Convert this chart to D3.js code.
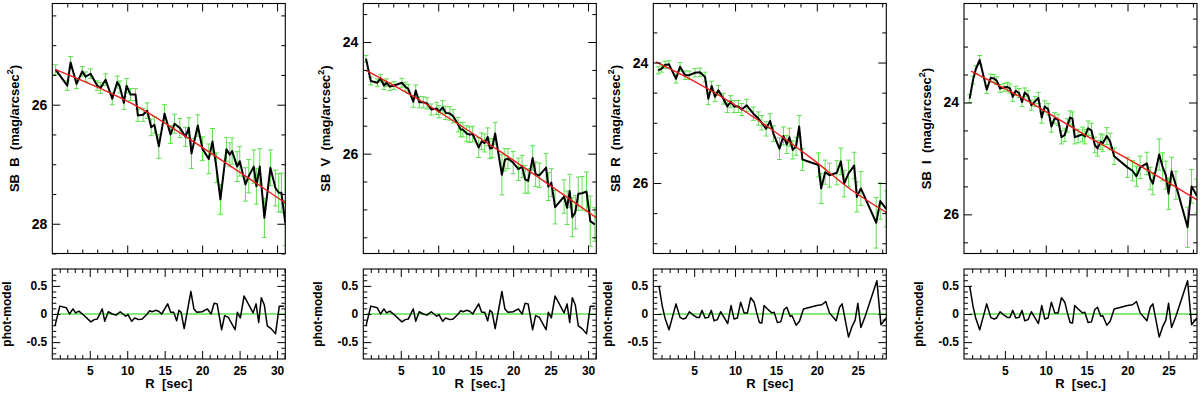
<!DOCTYPE html>
<html>
<head>
<meta charset="utf-8">
<script src="https://cdn.jsdelivr.net/npm/d3@7"></script>
<style>
body { margin: 0; background: #fff; }
text { font-family: "Liberation Sans", Arial, sans-serif; font-weight: bold; fill: #000; white-space: pre; }
</style>
</head>
<body>
<script>
// ---- B band (surface brightness profile)
var rB = [0.44, 2.0, 2.44, 3.24, 4.0, 4.44, 5.11, 6.0, 6.44, 7.11, 8.0, 8.67, 9.02, 9.56, 9.91, 10.44, 11.11, 11.42, 12.13, 12.67,
  13.2, 13.64, 14.22, 14.98, 15.78, 16.31, 17.02, 17.78, 18.22, 18.58, 19.42, 20.04, 20.89, 21.38, 21.91, 22.44, 23.24, 23.69, 24.0, 24.67,
  25.02, 25.78, 26.22, 26.89, 27.24, 27.69, 28.31, 29.11, 29.78, 30.22, 30.58, 31.1];
var sbB = [25.41, 25.68, 25.29, 25.65, 25.44, 25.53, 25.48, 25.68, 25.72, 25.58, 25.90, 25.62, 25.70, 25.97, 25.68, 25.83, 25.83, 26.18, 26.17, 26.10,
  26.38, 26.34, 26.70, 26.15, 26.50, 26.32, 26.39, 26.54, 26.39, 26.82, 26.35, 26.74, 26.91, 26.62, 27.06, 27.59, 26.75, 26.84, 26.78, 27.04,
  26.95, 27.34, 27.20, 27.04, 27.37, 27.04, 27.90, 27.06, 27.40, 27.48, 27.48, 27.99];
var errB = [0.08, 0.08, 0.1, 0.08, 0.08, 0.08, 0.08, 0.08, 0.09, 0.1, 0.1, 0.1, 0.1, 0.11, 0.12, 0.1, 0.1, 0.1, 0.11, 0.13,
  0.14, 0.14, 0.2, 0.15, 0.15, 0.16, 0.16, 0.16, 0.17, 0.25, 0.18, 0.2, 0.25, 0.22, 0.25, 0.25, 0.2, 0.2, 0.22, 0.25,
  0.25, 0.28, 0.28, 0.28, 0.3, 0.3, 0.33, 0.3, 0.3, 0.32, 0.33, 0.38];
var fitRB = [0.44, 10.9, 21.0, 31.1];
var fitB = [25.41, 26.0, 26.80, 27.65];

// ---- V band
var rV = [0.36, 1.0, 1.87, 2.3, 2.76, 3.1, 3.55, 4.1, 5.15, 5.6, 6.0, 6.67, 7.0, 7.47, 8.0, 8.5, 9.07, 9.8, 10.1, 10.6,
  11.0, 11.55, 12.0, 12.67, 13.0, 13.3, 13.8, 14.2, 14.6, 15.4, 15.8, 16.2, 16.6, 16.9, 17.2, 17.6, 18.5, 18.9, 19.3, 20.0,
  20.7, 21.2, 21.6, 22.0, 22.6, 23.0, 23.5, 24.4, 24.7, 25.1, 25.6, 26.8, 27.2, 27.55, 27.9, 28.3, 28.7, 29.2, 29.8, 30.3, 30.9];
var sbV = [24.30, 24.70, 24.73, 24.65, 24.78, 24.73, 24.80, 24.78, 24.73, 24.80, 24.84, 25.07, 24.87, 25.08, 25.08, 25.10, 25.21, 25.19, 25.25, 25.17,
  25.27, 25.28, 25.33, 25.48, 25.57, 25.57, 25.64, 25.66, 25.65, 25.89, 25.78, 25.81, 25.70, 25.91, 25.90, 25.64, 26.38, 26.11, 26.09, 26.16,
  26.28, 26.23, 26.46, 26.49, 26.08, 26.37, 26.39, 26.25, 26.59, 26.52, 26.96, 26.77, 26.97, 26.67, 27.14, 27.05, 26.72, 26.71, 26.68, 27.21, 27.27];
var errV = [0.06, 0.07, 0.07, 0.07, 0.07, 0.07, 0.07, 0.07, 0.08, 0.08, 0.08, 0.1, 0.1, 0.1, 0.1, 0.1, 0.1, 0.11, 0.11, 0.12,
  0.12, 0.12, 0.12, 0.13, 0.13, 0.13, 0.14, 0.14, 0.14, 0.18, 0.15, 0.16, 0.16, 0.18, 0.17, 0.2, 0.36, 0.2, 0.18, 0.2,
  0.2, 0.2, 0.25, 0.22, 0.22, 0.22, 0.22, 0.25, 0.25, 0.25, 0.3, 0.3, 0.3, 0.3, 0.35, 0.3, 0.3, 0.3, 0.35, 0.45, 0.3];
var fitRV = [0.36, 8.0, 17.8, 31.1];
var fitV = [24.51, 25.08, 25.92, 27.15];
// phot - model (the same residual curve is shown under B and V)
var resV = [-0.21, 0.14, 0.11, 0.0, 0.09, 0.02, 0.05, -0.01, -0.14, -0.1, -0.09, 0.09, -0.13, 0.04, 0.0, -0.02, 0.04, -0.04, -0.01, -0.13,
  -0.07, -0.1, -0.09, 0.0, 0.06, 0.04, 0.065, 0.05, 0.0, 0.18, 0.03, 0.03, -0.12, 0.065, 0.03, -0.26, 0.40, 0.09, 0.03, 0.04,
  0.09, 0.0, 0.19, 0.18, -0.28, -0.03, -0.06, -0.28, 0.03, -0.07, 0.32, 0.02, 0.18, -0.15, 0.29, 0.16, -0.21, -0.26, -0.35, 0.14, 0.14];

// ---- R band
var rR = [0.61, 1.02, 1.43, 1.92, 2.78, 3.27, 3.88, 4.41, 5.1, 5.71, 6.33, 6.73, 7.14, 7.55, 7.96, 8.57, 9.06, 9.47, 9.88, 10.41,
  10.82, 11.43, 12.24, 12.86, 13.27, 13.8, 14.29, 14.69, 15.43, 15.92, 16.33, 16.65, 17.06, 17.47, 17.84, 18.24, 20.2, 20.53, 21.02, 21.55,
  22.45, 22.94, 23.35, 23.88, 24.57, 24.9, 25.39, 27.27, 27.76, 28.49];
var sbR = [24.13, 24.10, 24.04, 24.03, 24.27, 24.07, 24.21, 24.21, 24.17, 24.16, 24.24, 24.60, 24.39, 24.57, 24.46, 24.60, 24.73, 24.65, 24.73, 24.73,
  24.78, 24.71, 24.85, 24.93, 25.00, 25.10, 24.97, 25.18, 25.43, 25.22, 25.36, 25.24, 25.45, 25.39, 25.06, 25.61, 25.70, 26.09, 25.82, 25.87,
  25.83, 25.64, 26.01, 25.84, 25.71, 26.23, 26.09, 26.66, 26.30, 26.43];
var errR = [0.06, 0.06, 0.06, 0.06, 0.07, 0.07, 0.07, 0.07, 0.07, 0.07, 0.08, 0.1, 0.08, 0.08, 0.08, 0.09, 0.1, 0.1, 0.1, 0.1,
  0.1, 0.1, 0.11, 0.11, 0.12, 0.12, 0.12, 0.13, 0.18, 0.15, 0.15, 0.15, 0.15, 0.15, 0.18, 0.18, 0.2, 0.25, 0.2, 0.2,
  0.2, 0.22, 0.22, 0.22, 0.22, 0.25, 0.28, 0.42, 0.3, 0.3];
var fitRR = [0.29, 4.86, 9.71, 14.57, 19.43, 24.29, 28.5];
var fitR = [23.99, 24.30, 24.68, 25.12, 25.60, 26.12, 26.49];

// ---- I band
var rI = [0.69, 1.10, 1.43, 1.92, 2.78, 3.27, 3.67, 4.0, 4.41, 4.9, 5.31, 5.63, 5.96, 6.33, 6.73, 7.1, 7.43, 7.84, 8.24, 8.69,
  9.1, 9.51, 9.88, 10.29, 10.69, 11.1, 11.51, 11.92, 12.33, 12.65, 12.98, 13.27, 13.55, 13.96, 14.49, 14.78, 15.18, 15.59, 16.0, 16.33,
  16.73, 16.98, 17.47, 17.88, 18.37, 20.0, 20.61, 21.1, 21.55, 22.37, 22.78, 23.1, 23.88, 24.29, 24.69, 25.02, 25.39, 25.92, 27.35, 27.84, 28.49];
var sbI = [23.93, 23.60, 23.41, 23.24, 23.77, 23.56, 23.57, 23.61, 23.75, 23.73, 23.72, 23.75, 23.90, 23.79, 23.83, 23.99, 23.82, 23.88, 24.05, 23.98,
  23.92, 24.27, 24.07, 24.12, 24.43, 24.28, 24.31, 24.62, 24.58, 24.41, 24.27, 24.29, 24.62, 24.60, 24.57, 24.61, 24.46, 24.50, 24.76, 24.82,
  24.70, 24.73, 24.60, 24.70, 24.96, 25.16, 25.22, 25.32, 25.16, 25.09, 25.36, 25.45, 24.93, 25.15, 25.30, 25.63, 25.23, 25.48, 26.23, 25.50, 25.67];
var errI = [0.07, 0.07, 0.07, 0.08, 0.07, 0.07, 0.07, 0.07, 0.07, 0.07, 0.08, 0.08, 0.08, 0.08, 0.08, 0.08, 0.08, 0.09, 0.09, 0.09,
  0.1, 0.1, 0.1, 0.1, 0.1, 0.1, 0.1, 0.12, 0.12, 0.12, 0.12, 0.12, 0.12, 0.12, 0.13, 0.13, 0.13, 0.13, 0.14, 0.14,
  0.14, 0.15, 0.15, 0.15, 0.15, 0.18, 0.18, 0.18, 0.2, 0.2, 0.2, 0.2, 0.28, 0.25, 0.25, 0.28, 0.25, 0.25, 0.36, 0.3, 0.3];
var fitRI = [0.86, 7.76, 14.57, 21.37, 28.5];
var fitI = [23.44, 23.97, 24.56, 25.12, 25.74];
// phot - model (the same residual curve is shown under R and I)
var resI = [0.50, 0.14, -0.07, -0.28, 0.18, -0.06, -0.09, -0.07, 0.04, -0.02, -0.06, -0.06, 0.065, -0.07, -0.06, 0.065, -0.12, -0.10, 0.04, -0.07,
  -0.17, 0.15, -0.09, -0.07, 0.21, 0.02, 0.02, 0.29, 0.21, 0.02, -0.15, -0.16, 0.15, 0.09, 0.02, 0.03, -0.15, -0.14, 0.08, 0.12,
  -0.04, -0.03, -0.20, -0.13, 0.09, 0.15, 0.165, 0.22, 0.02, -0.12, 0.12, 0.18, -0.41, -0.23, -0.11, 0.19, -0.24, -0.04, 0.59, -0.19, -0.07];

var bands = ["B", "V", "R", "I"];
var xLabels = ["R  [sec]", "R  [sec.]", "R  [sec]", "R  [sec.]"];

var width = 1200, height = 394,
    panelW = 233, topY = 3.5, topH = 250, botY = 269, botH = 90;

var panels = [
  { left: 52.3, r: rB, sb: sbB, err: errB, fr: fitRB, fit: fitB, ydom: [24.3, 28.5], xmax: 31.1, rr: rV, res: resV },
  { left: 363.3, r: rV, sb: sbV, err: errV, fr: fitRV, fit: fitV, ydom: [23.31, 27.79], xmax: 31.1, rr: rV, res: resV },
  { left: 653.3, r: rR, sb: sbR, err: errR, fr: fitRR, fit: fitR, ydom: [23.02, 27.17], xmax: 28.5, rr: rI, res: resI },
  { left: 964, r: rI, sb: sbI, err: errI, fr: fitRI, fit: fitI, ydom: [22.23, 26.7], xmax: 28.5, rr: rI, res: resI }
];

var svg = d3.select("body").append("svg")
    .attr("width", width)
    .attr("height", height);

var green = "#5ee04e";

function axis(g, fn, scale, vals, len, fmt, pad, fs) {
  var a = g.append("g").call(fn(scale).tickValues(vals).tickSize(-len).tickPadding(pad).tickFormat(fmt));
  a.select(".domain").remove();
  a.attr("font-family", null).attr("font-size", null);
  a.selectAll("line").attr("stroke", "#000").attr("stroke-width", 1);
  a.selectAll("text").style("font-size", fs + "px");
  return a;
}

function frame(g, w, h, x, y, xMaj, xMin, yMaj, yMin, yFmt, yFs, xFmt) {
  var none = function () { return ""; };
  // left
  axis(g, d3.axisLeft, y, yMaj, 8, yFmt, 5, yFs);
  axis(g, d3.axisLeft, y, yMin, 4, none, 5, yFs);
  // right
  axis(g, d3.axisRight, y, yMaj, 8, none, 5, yFs).attr("transform", "translate(" + w + ",0)");
  axis(g, d3.axisRight, y, yMin, 4, none, 5, yFs).attr("transform", "translate(" + w + ",0)");
  // top
  axis(g, d3.axisTop, x, xMaj, 8, none, 5, 12);
  axis(g, d3.axisTop, x, xMin, 4, none, 5, 12);
  // bottom
  axis(g, d3.axisBottom, x, xMaj, 8, xFmt || none, 7, 12).attr("transform", "translate(0," + h + ")");
  axis(g, d3.axisBottom, x, xMin, 4, none, 5, 12).attr("transform", "translate(0," + h + ")");
  g.append("rect")
    .attr("width", w).attr("height", h)
    .attr("fill", "none").attr("stroke", "#000").attr("stroke-width", 1.1);
}

panels.forEach(function (p, k) {
  if (p.r.length !== p.sb.length || p.r.length !== p.err.length || p.rr.length !== p.res.length)
    throw new Error("length mismatch in panel " + k);

  var x = d3.scaleLinear().domain([0, p.xmax]).range([0, panelW]);
  var y = d3.scaleLinear().domain(p.ydom).range([0, topH]);
  var yr = d3.scaleLinear().domain([0.8, -0.8]).range([0, botH]);

  // ---------- upper panel
  var g = svg.append("g").attr("transform", "translate(" + p.left + "," + topY + ")");
  g.append("clipPath").attr("id", "clipT" + k)
    .append("rect").attr("width", panelW).attr("height", topH);
  var plot = g.append("g").attr("clip-path", "url(#clipT" + k + ")");

  var idx = d3.range(p.r.length);
  var eb = plot.append("g").attr("stroke", green).attr("stroke-width", 1);
  eb.selectAll("line.bar").data(idx).enter().append("line")
    .attr("class", "bar")
    .attr("x1", function (i) { return x(p.r[i]); })
    .attr("x2", function (i) { return x(p.r[i]); })
    .attr("y1", function (i) { return y(p.sb[i] - p.err[i]); })
    .attr("y2", function (i) { return y(p.sb[i] + p.err[i]); });
  [-1, 1].forEach(function (s) {
    eb.selectAll("line.cap" + (s + 1)).data(idx).enter().append("line")
      .attr("class", "cap" + (s + 1))
      .attr("x1", function (i) { return x(p.r[i]) - 2.5; })
      .attr("x2", function (i) { return x(p.r[i]) + 2.5; })
      .attr("y1", function (i) { return y(p.sb[i] + s * p.err[i]); })
      .attr("y2", function (i) { return y(p.sb[i] + s * p.err[i]); });
  });

  plot.append("path")
    .datum(idx)
    .attr("fill", "none").attr("stroke", "#000").attr("stroke-width", 2)
    .attr("stroke-linejoin", "round")
    .attr("d", d3.line().x(function (i) { return x(p.r[i]); }).y(function (i) { return y(p.sb[i]); }));

  plot.append("path")
    .datum(d3.range(p.fr.length))
    .attr("fill", "none").attr("stroke", "#ee1c1c").attr("stroke-width", 1.4)
    .attr("d", d3.line().curve(d3.curveMonotoneX)
      .x(function (i) { return x(p.fr[i]); }).y(function (i) { return y(p.fit[i]); }));

  var yMaj = d3.range(Math.ceil(p.ydom[0] / 2) * 2, p.ydom[1], 2);
  var yMin = d3.range(Math.ceil(p.ydom[0] * 2), Math.floor(p.ydom[1] * 2) + 1)
    .map(function (v) { return v / 2; })
    .filter(function (v) { return v % 2 !== 0; });
  var xMajT = d3.range(10, p.xmax, 10);
  var xMinT = d3.range(2, p.xmax, 2).filter(function (v) { return v % 10 !== 0; });
  frame(g, panelW, topH, x, y, xMajT, xMinT, yMaj, yMin, d3.format("d"), 14);

  g.append("text")
    .attr("transform", "translate(-36," + (topH / 2) + ") rotate(-90)")
    .attr("text-anchor", "middle")
    .attr("dominant-baseline", "middle")
    .style("font-size", "13px")
    .call(function (t) {
      t.append("tspan").text("SB  " + bands[k] + "  (mag/arcsec");
      t.append("tspan").attr("dy", -5).style("font-size", "9px").text("2");
      t.append("tspan").attr("dy", 5).text(")");
    });

  // ---------- residual panel
  var h = svg.append("g").attr("transform", "translate(" + p.left + "," + botY + ")");
  h.append("clipPath").attr("id", "clipB" + k)
    .append("rect").attr("width", panelW).attr("height", botH);
  var rp = h.append("g").attr("clip-path", "url(#clipB" + k + ")");

  rp.append("line")
    .attr("x1", x(p.rr[0])).attr("x2", x(p.xmax))
    .attr("y1", yr(0)).attr("y2", yr(0))
    .attr("stroke", green).attr("stroke-width", 1.3);

  var ridx = d3.range(p.rr.length);
  rp.append("path")
    .datum(ridx)
    .attr("fill", "none").attr("stroke", "#000").attr("stroke-width", 1.5)
    .attr("stroke-linejoin", "round")
    .attr("d", d3.line().x(function (i) { return x(p.rr[i]); }).y(function (i) { return yr(p.res[i]); }));

  var ryAll = d3.range(-8, 9).filter(function (i) { return Math.abs(i) < 8; });
  var ryMaj = ryAll.filter(function (i) { return i % 5 === 0; }).map(function (i) { return i / 10; });
  var ryMin = ryAll.filter(function (i) { return i % 5 !== 0; }).map(function (i) { return i / 10; });
  var xMajB = d3.range(5, p.xmax, 5);
  var xMinB = d3.range(1, p.xmax, 1).filter(function (v) { return v % 5 !== 0; });
  frame(h, panelW, botH, x, yr, xMajB, xMinB, ryMaj, ryMin,
    function (v) { return v === 0 ? "0" : (v < 0 ? "-" + Math.abs(v) : "" + v); }, 12, d3.format("d"));
  h.selectAll("text").filter(function () { return this.parentNode && d3.select(this.parentNode).classed("tick"); })
    .style("font-size", "12px");

  h.append("text")
    .attr("transform", "translate(-44," + (botH / 2) + ") rotate(-90)")
    .attr("text-anchor", "middle")
    .attr("dominant-baseline", "middle")
    .style("font-size", "12px")
    .text("phot-model");

  h.append("text")
    .attr("x", panelW / 2)
    .attr("y", botH + 29)
    .attr("text-anchor", "middle")
    .style("font-size", "13px")
    .text(xLabels[k]);
});
</script>
</body>
</html>
